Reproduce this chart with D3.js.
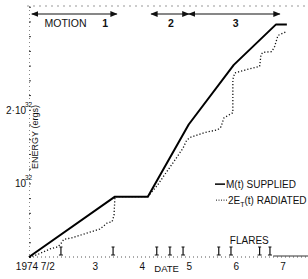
<!DOCTYPE html>
<html>
<head>
<meta charset="utf-8">
<script src="https://cdn.jsdelivr.net/npm/d3@7"></script>
<style>
  body { margin: 0; background: #fff; }
  text { font-family: "Liberation Sans", Arial, sans-serif; fill: #111; }
</style>
</head>
<body>
<div id="chart"></div>
<script>
// days of July 1974, energy in units of 10^32 ergs
const suppliedDay = [1.60, 3.43, 4.13, 5.00, 5.96, 6.86, 7.09];
const suppliedE   = [0.00, 0.82, 0.82, 1.80, 2.61, 3.16, 3.16];

const radiatedDay = [1.60, 1.77, 2.05, 2.22, 2.30, 2.34, 2.51, 3.11, 3.26, 3.37, 3.41, 3.43, 4.13,
                     4.34, 4.49, 4.71, 4.88, 4.96, 5.05, 5.34, 5.62, 5.69, 5.75, 5.94, 5.94, 5.98,
                     6.20, 6.51, 6.54, 6.58, 6.77, 6.83, 6.90, 7.07];
const radiatedE   = [0.00, 0.03, 0.11, 0.14, 0.20, 0.24, 0.26, 0.38, 0.46, 0.48, 0.57, 0.82, 0.82,
                     0.98, 1.12, 1.32, 1.48, 1.59, 1.63, 1.69, 1.73, 1.77, 1.89, 1.96, 2.41, 2.50,
                     2.54, 2.59, 2.75, 2.78, 2.79, 2.86, 3.01, 3.06];

const flareDays = [2.28, 3.39, 4.32, 4.60, 4.88, 5.64, 5.90, 6.51, 6.73];

const dateTicks  = [2, 3, 4, 5, 6, 7];
const dateLabels = ["1974 7/2", "3", "4", "5", "6", "7"];

const motions = [
  { from: 1.66, to: 3.47, label: "1" },
  { from: 4.20, to: 5.00, label: "2" },
  { from: 5.00, to: 6.94, label: "3" }
];

const width = 308, height = 279;
const margin = { top: 6, right: 0, bottom: 22, left: 29 };

const svg = d3.select("#chart").append("svg")
  .attr("width", width)
  .attr("height", height);

const x = d3.scaleLinear().domain([1.6, 7.54]).range([margin.left, width - margin.right]);
const y = d3.scaleLinear().domain([0, 3.41]).range([height - margin.bottom, margin.top]);

const defs = svg.append("defs");
defs.append("marker").attr("id", "head")
  .attr("viewBox", "0 0 10 10").attr("refX", 9).attr("refY", 5)
  .attr("markerWidth", 6).attr("markerHeight", 6).attr("orient", "auto-start-reverse")
  .append("path").attr("d", "M0,1 L10,5 L0,9 Z").attr("fill", "#111");

// frame: faint dotted top, dotted left axis with minor ticks
svg.append("line")
  .attr("x1", x(1.6) - 2).attr("x2", width)
  .attr("y1", y(3.41)).attr("y2", y(3.41))
  .attr("stroke", "#999").attr("stroke-width", 1).attr("stroke-dasharray", "2,4");

const yAxis = d3.axisRight(y).tickValues(d3.range(0, 3.41, 0.2)).tickSize(2).tickFormat("");
svg.append("g")
  .attr("transform", `translate(${x(1.6)},0)`)
  .call(yAxis)
  .call(g => g.select(".domain").attr("stroke", "#888").attr("stroke-dasharray", "1,3"))
  .call(g => g.selectAll(".tick line").attr("stroke", "#333"));

// y labels
[[2, "2\u00b710"], [1, "10"]].forEach(([v, t]) => {
  svg.append("text")
    .attr("x", x(1.6) - 3).attr("y", y(v) + 4)
    .attr("text-anchor", "end").style("font-size", "10px")
    .text(t);
  svg.append("text")
    .attr("x", x(1.6) - 4).attr("y", y(v) - 3)
    .style("font-size", "6.5px").text("32");
});

svg.append("text")
  .attr("transform", `translate(${x(1.6) + 9},${y(1.63)}) rotate(-90)`)
  .attr("text-anchor", "middle")
  .style("font-size", "9px")
  .text("ENERGY (ergs)");

// bottom baseline
svg.append("line")
  .attr("x1", x(1.6)).attr("x2", width)
  .attr("y1", y(0)).attr("y2", y(0))
  .attr("stroke", "#555").attr("stroke-dasharray", "1,3");
svg.append("line")
  .attr("x1", x(6.80)).attr("x2", width)
  .attr("y1", y(0) - 1).attr("y2", y(0) - 1)
  .attr("stroke", "#333");

// date axis labels
const xAxis = d3.axisBottom(x).tickValues(dateTicks).tickSize(0)
  .tickFormat((d, i) => dateLabels[i]);
const xg = svg.append("g")
  .attr("transform", `translate(0,${y(0) + 3})`)
  .call(xAxis)
  .call(g => g.select(".domain").remove())
  .call(g => g.selectAll("text").style("font-size", "10px").attr("fill", "#111")
    .style("font-family", "'Liberation Sans', Arial, sans-serif"));
xg.selectAll(".tick").filter(d => d === 2).select("text").attr("dx", "-13");

svg.append("text")
  .attr("x", x(4.53)).attr("y", y(0) + 15)
  .attr("text-anchor", "middle").style("font-size", "9.5px")
  .text("DATE");

// flares
const flares = svg.append("g");
flareDays.forEach(d => {
  flares.append("line")
    .attr("x1", x(d)).attr("x2", x(d))
    .attr("y1", y(0) - 2).attr("y2", y(0) - 10)
    .attr("stroke", "#111").attr("stroke-width", 1.2);
  flares.append("line")
    .attr("x1", x(d) - 1.5).attr("x2", x(d) + 1.5)
    .attr("y1", y(0) - 10).attr("y2", y(0) - 10)
    .attr("stroke", "#111");
  flares.append("line")
    .attr("x1", x(d) - 2).attr("x2", x(d) + 2)
    .attr("y1", y(0) - 2).attr("y2", y(0) - 2)
    .attr("stroke", "#111");
});
svg.append("text")
  .attr("x", x(6.29)).attr("y", y(0) - 13)
  .attr("text-anchor", "middle").style("font-size", "10px")
  .text("FLARES");

// curves
const line = d3.line().x(d => x(d[0])).y(d => y(d[1]));

svg.append("path")
  .datum(radiatedDay.map((d, i) => [d, radiatedE[i]]))
  .attr("d", line)
  .attr("fill", "none").attr("stroke", "#111")
  .attr("stroke-width", 1.3).attr("stroke-dasharray", "1.2,2");

svg.append("path")
  .datum(suppliedDay.map((d, i) => [d, suppliedE[i]]))
  .attr("d", line)
  .attr("fill", "none").attr("stroke", "#000")
  .attr("stroke-width", 2).attr("stroke-linejoin", "round");

// motion arrows
const arrowY = margin.top + 8;
motions.forEach(m => {
  svg.append("line")
    .attr("x1", x(m.from)).attr("x2", x(m.to))
    .attr("y1", arrowY).attr("y2", arrowY)
    .attr("stroke", "#111").attr("stroke-width", 1.2)
    .attr("marker-start", "url(#head)").attr("marker-end", "url(#head)");
});
svg.append("text").attr("x", x(1.93)).attr("y", arrowY + 13)
  .style("font-size", "10.5px").text("MOTION");
svg.append("text").attr("x", x(3.22)).attr("y", arrowY + 13)
  .attr("text-anchor", "middle").style("font-size", "10.5px").style("font-weight", "bold").text("1");
svg.append("text").attr("x", x(4.62)).attr("y", arrowY + 13)
  .attr("text-anchor", "middle").style("font-size", "10.5px").style("font-weight", "bold").text("2");
svg.append("text").attr("x", x(6.00)).attr("y", arrowY + 13)
  .attr("text-anchor", "middle").style("font-size", "10.5px").style("font-weight", "bold").text("3");

// legend
const legend = svg.append("g").attr("transform", `translate(${x(5.56)},${y(0.99)})`);
legend.append("line").attr("x1", 0).attr("x2", 10).attr("y1", 0).attr("y2", 0)
  .attr("stroke", "#000").attr("stroke-width", 1.5);
legend.append("text").attr("x", 11).attr("y", 4).style("font-size", "10px")
  .text("M(t) SUPPLIED");
legend.append("line").attr("x1", 1).attr("x2", 12).attr("y1", 16).attr("y2", 16)
  .attr("stroke", "#111").attr("stroke-dasharray", "1,1.5");
const rad = legend.append("text").attr("x", 13).attr("y", 20).style("font-size", "10px");
rad.append("tspan").text("2E");
rad.append("tspan").attr("dy", 3).style("font-size", "7px").text("T");
rad.append("tspan").attr("dy", -3).text("(t) RADIATED");
</script>
</body>
</html>
